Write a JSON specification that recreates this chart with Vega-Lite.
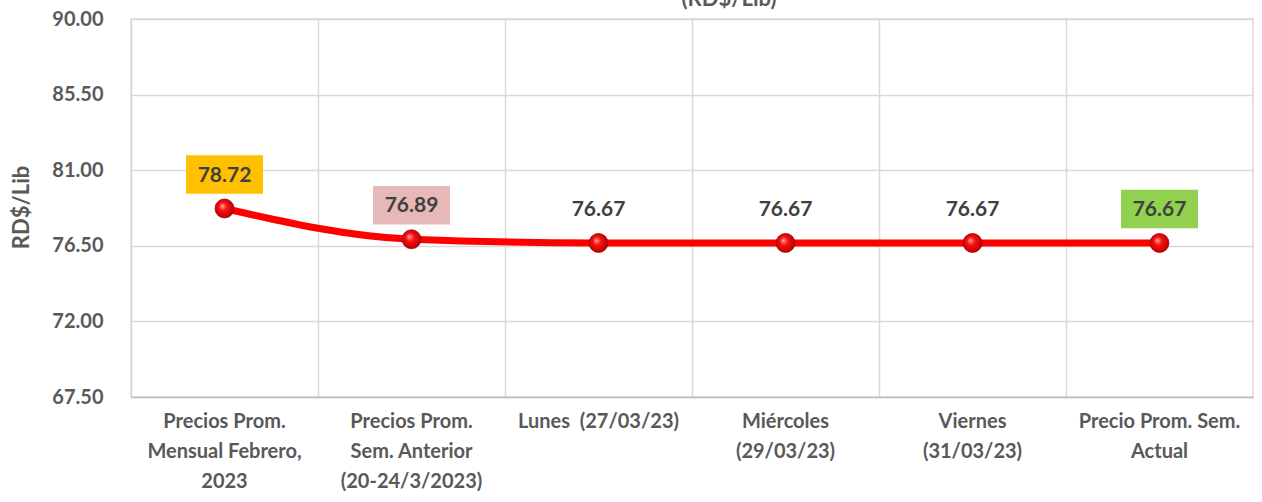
{
  "$schema": "https://vega.github.io/schema/vega-lite/v6.json",
  "width": 1122,
  "height": 378,
  "autosize": {"type": "none"},
  "padding": {"left": 131, "top": 19, "right": 9, "bottom": 105},
  "background": "white",
  "config": {
    "view": {"stroke": "#d9d9d9", "strokeWidth": 1.5},
    "font": "Lato"
  },
  "title": {
    "text": "(RD$/Lib)",
    "font": "Lato",
    "fontSize": 22,
    "fontWeight": "bold",
    "color": "#595959",
    "anchor": "middle",
    "frame": "group",
    "baseline": "alphabetic",
    "offset": 1,
    "dx": 37,
    "dy": 20
  },
  "data": {
    "values": [
      {"cat": "Precios Prom.|Mensual Febrero,|2023", "price": 78.72},
      {"cat": "Precios Prom.|Sem. Anterior|(20-24/3/2023)", "price": 76.89},
      {"cat": "Lunes\u00a0 (27/03/23)", "price": 76.67},
      {"cat": "Miércoles|(29/03/23)", "price": 76.67},
      {"cat": "Viernes|(31/03/23)", "price": 76.67},
      {"cat": "Precio Prom. Sem.|Actual", "price": 76.67}
    ]
  },
  "resolve": {"axis": {"x": "independent"}},
  "layer": [
    {
      "mark": {"type": "line", "interpolate": "monotone", "color": "#FF0000", "strokeWidth": 7},
      "encoding": {
        "x": {
          "field": "cat", "type": "nominal", "sort": null,
          "scale": {"type": "band", "paddingInner": 0, "paddingOuter": 0},
          "axis": {
            "orient": "bottom",
            "title": null, "labels": false, "ticks": false, "domain": true,
            "domainColor": "#bfbfbf", "domainWidth": 1.5,
            "grid": true, "bandPosition": 0, "gridColor": "#d9d9d9", "gridWidth": 1.5
          }
        },
        "y": {
          "field": "price", "type": "quantitative",
          "scale": {"domain": [67.5, 90], "nice": false, "zero": false},
          "axis": {
            "values": [67.5, 72, 76.5, 81, 85.5, 90],
            "format": ".2f",
            "grid": true, "gridColor": "#d9d9d9", "gridWidth": 1.5,
            "domain": false, "ticks": false,
            "labelPadding": 28,
            "labelFont": "Lato", "labelFontSize": 20, "labelFontWeight": "bold", "labelColor": "#595959",
            "title": "RD$/Lib",
            "titleFont": "Lato", "titleFontSize": 22, "titleFontWeight": "bold", "titleColor": "#595959",
            "titleX": -110, "titleY": 188, "titleAngle": -90, "titleAlign": "center", "titleBaseline": "middle"
          }
        }
      }
    },
    {
      "mark": {
        "type": "point", "filled": true, "size": 360, "opacity": 1,
        "stroke": "#b00000", "strokeWidth": 0.8,
        "color": {
          "gradient": "radial",
          "x1": 0.38, "y1": 0.35, "r1": 0,
          "x2": 0.5, "y2": 0.5, "r2": 0.6,
          "stops": [
            {"offset": 0, "color": "#ffb0b0"},
            {"offset": 0.35, "color": "#ff1010"},
            {"offset": 1, "color": "#a00000"}
          ]
        }
      },
      "encoding": {
        "x": {
          "field": "cat", "type": "nominal", "sort": null,
          "axis": {
            "orient": "bottom",
            "title": null, "grid": false, "ticks": false, "domain": false,
            "labelAngle": 0,
            "labelExpr": "split(datum.value, '|')",
            "labelFont": "Lato", "labelFontSize": 20, "labelFontWeight": "bold", "labelColor": "#595959",
            "labelLineHeight": 30, "labelPadding": 14, "labelLimit": 300
          }
        },
        "y": {"field": "price", "type": "quantitative"}
      }
    },
    {
      "transform": [
        {"filter": "datum.cat === 'Precios Prom.|Mensual Febrero,|2023' || datum.cat === 'Precios Prom.|Sem. Anterior|(20-24/3/2023)' || datum.cat === 'Precio Prom. Sem.|Actual'"}
      ],
      "mark": {
        "type": "point", "filled": true, "opacity": 1, "size": 5929,
        "shape": "M-1,-0.5H1V0.5H-1Z", "yOffset": -34
      },
      "encoding": {
        "x": {"field": "cat", "type": "nominal", "sort": null, "axis": null},
        "y": {"field": "price", "type": "quantitative"},
        "color": {
          "field": "cat", "type": "nominal", "legend": null,
          "scale": {
            "domain": ["Precios Prom.|Mensual Febrero,|2023", "Precios Prom.|Sem. Anterior|(20-24/3/2023)", "Precio Prom. Sem.|Actual"],
            "range": ["#FFC000", "#E6B8B7", "#92D050"]
          }
        }
      }
    },
    {
      "mark": {
        "type": "text", "font": "Lato", "fontSize": 21, "fontWeight": "bold",
        "color": "#404040", "baseline": "middle", "align": "center", "yOffset": -33
      },
      "encoding": {
        "x": {"field": "cat", "type": "nominal", "sort": null, "axis": null},
        "y": {"field": "price", "type": "quantitative"},
        "text": {"field": "price", "type": "quantitative", "format": ".2f"}
      }
    }
  ]
}
